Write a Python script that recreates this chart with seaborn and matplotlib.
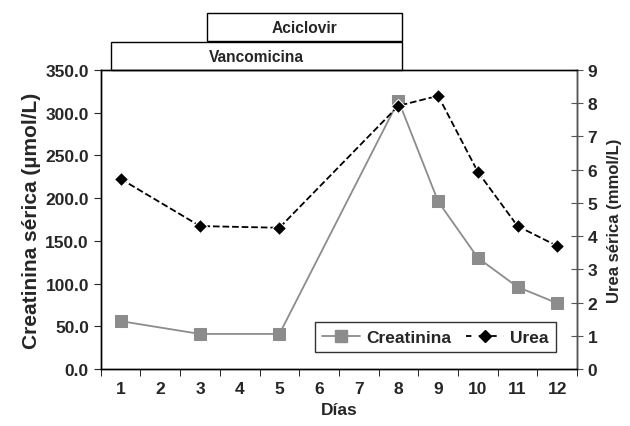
import pandas as pd
import matplotlib.pyplot as plt
import seaborn as sns
from matplotlib.patches import Rectangle
from matplotlib.lines import Line2D

# Datos
dias = [1, 3, 5, 8, 9, 10, 11, 12]
creatinina = [56, 41, 41, 314, 196, 130, 96, 77]
urea = [5.72, 4.3, 4.25, 7.92, 8.22, 5.93, 4.3, 3.7]
dias_ticks = list(range(1, 13))

# Tratamientos (inicio, fin en días)
tratamientos = ['Vancomicina', 'Aciclovir']
trat_inicio = [0.75, 3.18]
trat_fin = [8.1, 8.1]

df = pd.DataFrame({'dia': dias, 'creatinina': creatinina, 'urea': urea})

sns.set_style('ticks')
plt.rcParams['font.family'] = ['Liberation Sans', 'DejaVu Sans']
plt.rcParams['font.weight'] = 'bold'

fig = plt.figure(figsize=(6.3, 4.27), dpi=100)
ax = fig.add_axes([0.160, 0.1335, 0.756, 0.7005])
ax2 = ax.twinx()

gris = '#8c8c8c'
sns.lineplot(data=df, x='dia', y='creatinina', ax=ax, color=gris, marker='s',
             markersize=9, markeredgecolor=gris, linewidth=1.3, legend=False)
sns.lineplot(data=df, x='dia', y='urea', ax=ax2, color='black', marker='D',
             markersize=7, linestyle='--', dashes=(4, 3), linewidth=1.3, legend=False)

ax.set_xlim(0.5, 12.5)
ax.set_ylim(0, 350)
ax2.set_ylim(0, 9)

ax.set_xticks(dias_ticks)
ax.set_xticklabels([str(d) for d in dias_ticks], fontsize=12.5, fontweight='bold')
ax.set_xticks([d + 0.5 for d in range(0, 13)], minor=True)
ax.tick_params(axis='x', which='major', length=0, pad=9)
ax.tick_params(axis='x', which='minor', length=5, direction='out', color='black')

ax.set_yticks(range(0, 351, 50))
ax.set_yticklabels([f'{v:.1f}' for v in range(0, 351, 50)], fontsize=12.5, fontweight='bold')
ax.tick_params(axis='y', length=5, direction='out')
ax2.set_yticks(range(0, 10))
ax2.set_yticklabels([str(v) for v in range(0, 10)], fontsize=12.5, fontweight='bold')
ax2.tick_params(axis='y', length=8, direction='inout', color='#555555')

ax.set_xlabel('Días', fontsize=12.5, fontweight='bold', labelpad=4)
ax.set_ylabel('Creatinina sérica (\u00b5mol/L)', fontsize=15, fontweight='bold', labelpad=3)
ax2.set_ylabel('Urea sérica (mmol/L)', fontsize=12, fontweight='bold', labelpad=7)

for a in (ax, ax2):
    for s in a.spines.values():
        s.set_linewidth(1.0)
        s.set_color('black')
ax2.spines['right'].set_color('#555555')
ax.spines['top'].set_color('#333333')

# Cajas de tratamiento encima del gráfico
trans = ax.get_xaxis_transform()
alturas = [0.0, 0.097]
for nombre, x0, x1, h in zip(tratamientos, trat_inicio, trat_fin, alturas):
    rect = Rectangle((x0, 1.0 + h), x1 - x0, 0.093, transform=trans,
                     facecolor='white', edgecolor='black', linewidth=1.0, clip_on=False)
    ax.add_patch(rect)
    ax.text((x0 + x1) / 2, 1.0 + h + 0.046, nombre, transform=trans, ha='center',
            va='center', fontsize=11.2, fontweight='bold')

handles = [
    Line2D([], [], color=gris, marker='s', markersize=9, linewidth=1.3),
    Line2D([], [], color='black', marker='D', markersize=6.5, linestyle='--',
           dashes=(3, 4), linewidth=1.3),
]
leg = ax2.legend(handles, ['Creatinina', 'Urea'], loc='lower right', ncol=2,
                 bbox_to_anchor=(0.956, 0.057), borderaxespad=0, frameon=True,
                 fancybox=False, edgecolor='black', fontsize=12.5, handlelength=2.2,
                 columnspacing=0.85, handletextpad=0.35, borderpad=0.42)
leg.get_frame().set_linewidth(1.0)
for t in leg.get_texts():
    t.set_fontweight('bold')

fig.savefig('out.png', dpi=100)
